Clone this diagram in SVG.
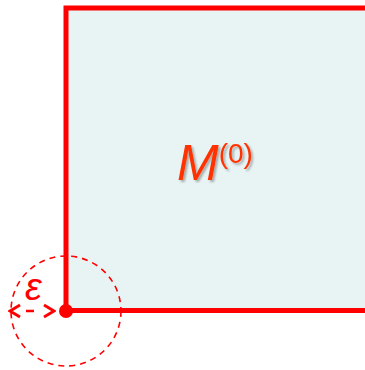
<svg xmlns="http://www.w3.org/2000/svg" width="365" height="370" viewBox="0 0 365 370">
<defs>
<filter id="sh" x="-20%" y="-20%" width="140%" height="140%"><feGaussianBlur in="SourceAlpha" stdDeviation="1.2"/><feOffset dx="2" dy="2"/><feComponentTransfer><feFuncA type="linear" slope="0.3"/></feComponentTransfer><feMerge><feMergeNode/><feMergeNode in="SourceGraphic"/></feMerge></filter>
<marker id="ah" markerWidth="14" markerHeight="16" refX="12" refY="8" orient="auto-start-reverse" markerUnits="userSpaceOnUse"><path d="M2,2 L12,8 L2,14" fill="none" stroke="#ff0000" stroke-width="2.8"/></marker>
</defs>
<style>
.lbl{font-family:"Liberation Sans",Arial,sans-serif;fill:#ff3300}
</style>
<g id="region">
<rect x="66" y="8" width="310" height="302.5" fill="#e8f4f4" stroke="#ff0000" stroke-width="5"/>
<text class="lbl" x="177" y="180" font-size="50" font-style="italic" filter="url(#sh)">M<tspan font-size="28" font-style="normal" dy="-17">(0)</tspan></text>
</g>
<g id="neighborhood">
<circle cx="66" cy="311" r="55" fill="none" stroke="#ff0000" stroke-width="1.6" stroke-dasharray="6,5"/>
<circle cx="66" cy="311" r="7" fill="#ff0000"/>
<text x="25" y="300" font-size="38" font-style="italic" font-family="Liberation Sans,Arial,sans-serif" fill="#ff0000">ε</text>
</g>
<g id="connectors">
<line x1="10" y1="311" x2="54" y2="311" stroke="#ff0000" stroke-width="2.5" stroke-dasharray="0,16,8,100" marker-start="url(#ah)" marker-end="url(#ah)"/>
</g>
</svg>
